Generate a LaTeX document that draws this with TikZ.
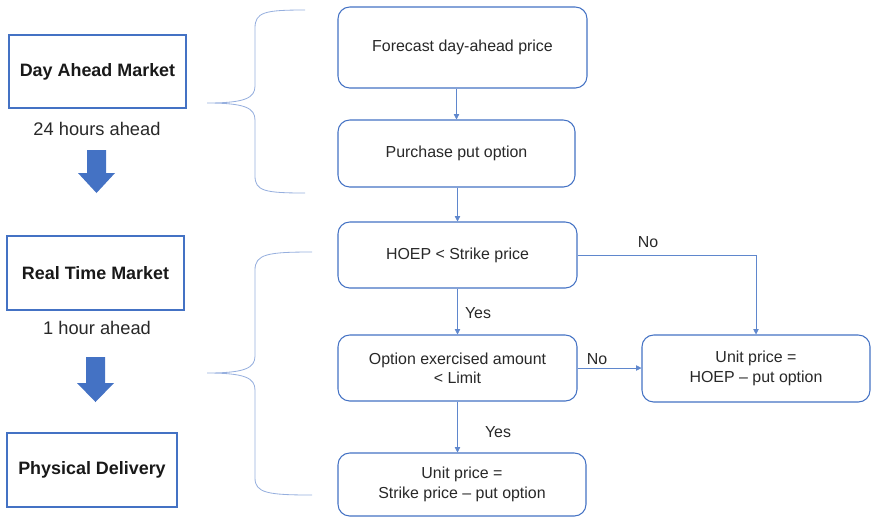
\documentclass[tikz,border=0pt]{standalone}
\usepackage{fontspec}
\setmainfont{Liberation Sans}
\usepackage{xcolor}
\usepackage{tikz}
\usetikzlibrary{arrows.meta,calc,positioning}
\definecolor{boxcolor}{RGB}{68,114,196}
\definecolor{linkcolor}{RGB}{95,135,205}
\definecolor{bracecolor}{RGB}{150,175,222}
\definecolor{txtcolor}{RGB}{40,40,40}
\tikzset{
  mktbox/.style={draw=boxcolor,line width=0.9pt,fill=white,text=black!90,font=\fontsize{15.3}{18}\selectfont\bfseries},
  stepbox/.style={draw=boxcolor,line width=0.9pt,rounded corners=10pt,fill=white,text=txtcolor,align=center,font=\fontsize{13.6}{16.5}\selectfont},
  link/.style={-{Triangle[length=1.6mm,width=1.6mm]},draw=linkcolor,line width=0.6pt},
  brace/.style={draw=bracecolor,line width=0.7pt},
  bigarrow/.style={fill=boxcolor},
  lbl/.style={text=txtcolor,font=\fontsize{13.6}{16}\selectfont},
  timelbl/.style={text=txtcolor,font=\fontsize{15.6}{18}\selectfont}
}

\begin{document}
\begin{tikzpicture}[x=0.03cm,y=-0.03cm]
  \useasboundingbox (0,0) rectangle (872,518);

  % --- Market stages ---
  \node[mktbox,minimum width=177*0.03cm,minimum height=73*0.03cm] (DA) at (97.5,71.5) {Day Ahead Market};
  \node[timelbl] (DAt) at (97,129) {24 hours ahead};
  \node[mktbox,minimum width=177*0.03cm,minimum height=74*0.03cm] (RT) at (95.5,273) {Real Time Market};
  \node[timelbl] (RTt) at (97,328) {1 hour ahead};
  \node[mktbox,minimum width=170*0.03cm,minimum height=74*0.03cm] (PD) at (92,470) {Physical Delivery};

  % --- Block arrows between stages ---
  \fill[bigarrow] (87,150) -- (106,150) -- (106,173) -- (115,173) -- (96.5,193)
    -- (78,173) -- (87,173) -- cycle;
  \fill[bigarrow] (86,357) -- (105,357) -- (105,383) -- (114,383) -- (95.5,402)
    -- (77,383) -- (86,383) -- cycle;

  % --- Braces ---
  \draw[brace] (305,10) .. controls (265,10) and (255,12) .. (255,28)
    -- (255,86) .. controls (255,98) and (245,103) .. (207,103)
    .. controls (245,103) and (255,108) .. (255,120)
    -- (255,176) .. controls (255,191) and (265,193) .. (305,193);
  \draw[brace] (312,252) .. controls (268,252) and (255,254) .. (255,270)
    -- (255,356) .. controls (255,368) and (245,373) .. (207,373)
    .. controls (245,373) and (255,378) .. (255,390)
    -- (255,478) .. controls (255,493) and (268,495) .. (312,495);

  % --- Decision flow ---
  \node[stepbox,minimum width=249*0.03cm,minimum height=81*0.03cm] (FC) at (462.5,47.5) {Forecast day-ahead price};
  \node[stepbox,minimum width=237*0.03cm,minimum height=67*0.03cm] (PP) at (456.5,153.5) {Purchase put option};
  \node[stepbox,minimum width=239*0.03cm,minimum height=66*0.03cm] (HO) at (457.5,255) {HOEP < Strike price};
  \node[stepbox,minimum width=239*0.03cm,minimum height=66*0.03cm] (OE) at (457.5,368) {Option exercised amount\\< Limit};
  \node[stepbox,minimum width=228*0.03cm,minimum height=67*0.03cm] (UH) at (756,368.5) {Unit price =\\HOEP -- put option};
  \node[stepbox,minimum width=248*0.03cm,minimum height=63*0.03cm] (US) at (462,484.5) {Unit price =\\Strike price -- put option};

  \draw[link] (PP.north |- FC.south) -- (PP.north);
  \draw[link] (PP.south -| HO.north) -- (HO.north);
  \draw[link] (HO.south) -- (OE.north);
  \draw[link] (OE.south) -- (OE.south |- US.north);
  \draw[link] (HO.east) -| (UH.north);
  \draw[link] (OE.east) -- (OE.east -| UH.west);

  % --- Branch labels ---
  \node[lbl] (no1) at (648,242) {No};
  \node[lbl] (yes1) at (478,313) {Yes};
  \node[lbl] (no2) at (597,359) {No};
  \node[lbl] (yes2) at (498,432) {Yes};
\end{tikzpicture}
\end{document}
